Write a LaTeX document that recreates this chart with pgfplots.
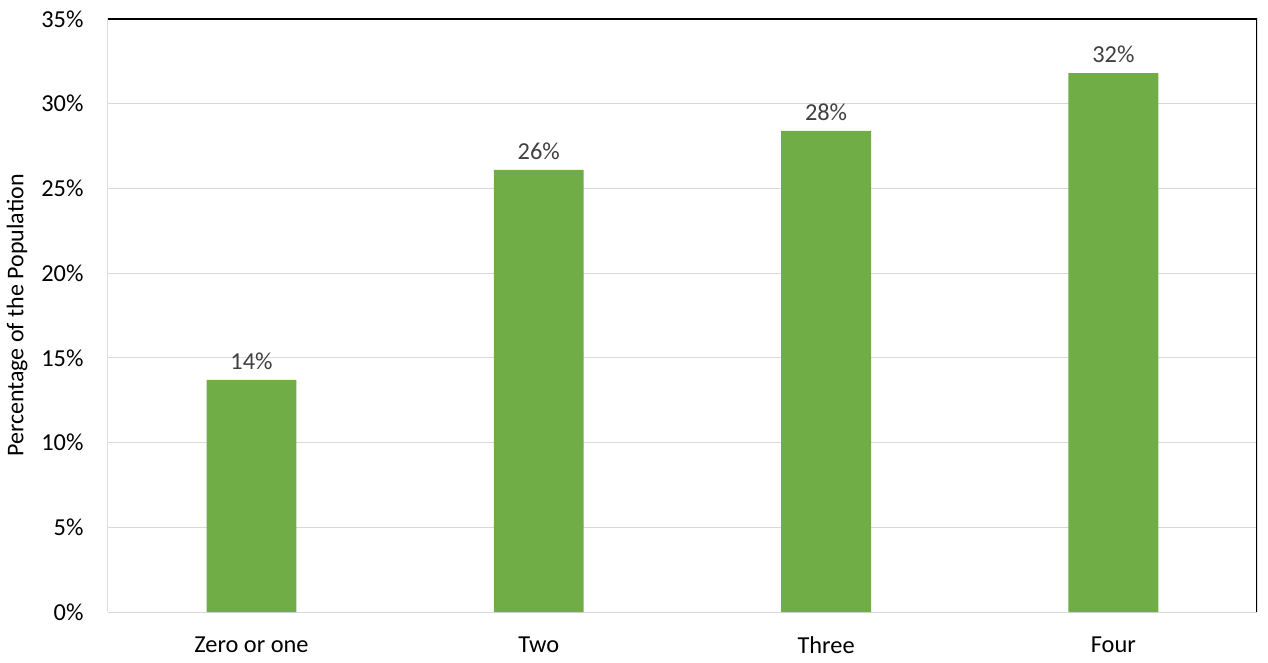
\documentclass[border=0pt]{standalone}
\usepackage{pgfplots}
\pgfplotsset{compat=1.18}
\usepackage{fontspec}
\setmainfont{Carlito}
\definecolor{barg}{HTML}{70AD47}
\definecolor{gridc}{HTML}{D9D9D9}
\definecolor{lblc}{HTML}{404040}
\begin{document}
\begin{tikzpicture}
\begin{axis}[
  name=ax,
  scale only axis,
  width=575.5pt, height=297pt,
  xmin=-0.5, xmax=3.5,
  ymin=0, ymax=35,
  ytick={0,5,...,35},
  xtick={0,1,2,3},
  xticklabels={Zero or one, Two, Three, Four},
  /pgf/number format/assume math mode=true,
  yticklabel={\pgfmathprintnumber{\tick}\%},
  major tick length=0pt,
  axis line style={draw=none},
  ymajorgrids,
  grid style={gridc, line width=0.5pt},
  tick label style={font=\fontsize{12.2}{14}\selectfont, text=black},
  y tick label style={anchor=east, inner sep=0pt, xshift=-12pt},
  x tick label style={anchor=north, inner sep=0pt, yshift=-12pt},
  ylabel={Percentage of the Population},
  ylabel style={at={(axis description cs:-0.079,0.5)}, anchor=center, font=\fontsize{12}{14}\selectfont, text=black},
  ybar, bar width=45pt,
  nodes near coords={\pgfmathprintnumber[fixed,precision=0]{\pgfplotspointmeta}\%},
  nodes near coords style={anchor=south, inner sep=0pt, yshift=5pt, text=lblc, font=\fontsize{12.2}{14}\selectfont},
]
\addplot[fill=barg, draw=none] coordinates {(0,13.7) (1,26.1) (2,28.4) (3,31.8)};
\draw[black, line width=0.6pt] (axis description cs:0,0) -- (axis description cs:0,1) -- (axis description cs:1,1) -- (axis description cs:1,0);
\end{axis}
\path[use as bounding box] ([shift={(-53pt,-25.5pt)}]ax.south west) rectangle ([shift={(5.5pt,9.5pt)}]ax.north east);
\end{tikzpicture}
\end{document}
